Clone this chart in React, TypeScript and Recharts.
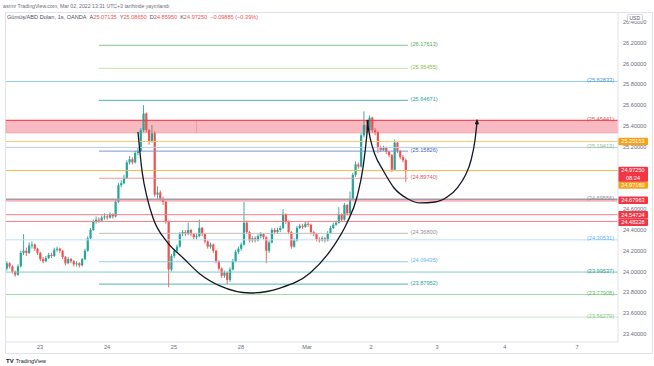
import React from 'react';
import { ComposedChart, Bar, Line, XAxis, YAxis, ReferenceLine, ReferenceArea } from 'recharts';

// ---- candle data (1h candles, slot index = position on time axis) ----
const firstOpen = 24.03;
const closes = [
  24.08, 24.05, 24.00, 23.97, 24.05, 24.18, 24.20, 24.18, 24.25, 24.26,
  24.22, 24.18, 24.12, 24.10, 24.13, 24.16, 24.15, 24.21, 24.22, 24.20,
  24.14, 24.08, 24.12, 24.10, 24.07, 24.08, 24.06, 24.12, 24.20, 24.32,
  24.40, 24.48, 24.50, 24.49, 24.52, 24.53, 24.52, 24.55, 24.53, 24.67,
  24.83, 24.85, 24.90, 25.05, 25.08, 25.05, 25.14, 25.16, 25.36, 25.52,
  25.36, 25.25, 25.33, 24.74, 24.76, 24.70, 24.67, 24.48, 24.02, 24.15,
  24.20, 24.24, 24.36, 24.38, 24.36, 24.40, 24.36, 24.33, 24.34, 24.42,
  24.36, 24.29, 24.24, 24.26, 24.20, 24.10, 24.03, 23.96, 23.99, 23.92,
  24.02, 24.10, 24.19, 24.22, 24.26, 24.47, 24.38, 24.30, 24.32, 24.30,
  24.34, 24.36, 24.33, 24.20, 24.28, 24.40, 24.38, 24.40, 24.42, 24.55,
  24.48, 24.38, 24.24, 24.30, 24.42, 24.44, 24.43, 24.46, 24.45, 24.38,
  24.36, 24.31, 24.30, 24.32, 24.30, 24.37, 24.42, 24.45, 24.47, 24.55,
  24.50, 24.64, 24.56, 24.70, 24.93, 25.03, 25.01, 25.31, 25.41, 25.36,
  25.48, 25.36, 25.34, 25.19, 25.17, 25.19, 25.15, 25.12, 24.98, 25.24,
  25.16, 25.10, 25.07135, 24.9725,
];
const highs = [
  24.10, 24.09, 24.06, 24.01, 24.07, 24.20, 24.36, 24.23, 24.28, 24.29,
  24.27, 24.23, 24.19, 24.14, 24.15, 24.18, 24.18, 24.23, 24.24, 24.23,
  24.21, 24.15, 24.14, 24.13, 24.11, 24.10, 24.09, 24.13, 24.22, 24.34,
  24.42, 24.50, 24.53, 24.52, 24.54, 24.56, 24.55, 24.57, 24.56, 24.69,
  24.85, 24.88, 24.93, 25.07, 25.11, 25.10, 25.16, 25.19, 25.38, 25.60,
  25.53, 25.37, 25.41, 25.35, 24.82, 24.78, 24.72, 24.68, 24.49, 24.17,
  24.22, 24.26, 24.38, 24.40, 24.40, 24.47, 24.41, 24.37, 24.36, 24.50,
  24.43, 24.37, 24.30, 24.28, 24.27, 24.21, 24.11, 24.04, 24.01, 24.00,
  24.04, 24.12, 24.21, 24.24, 24.28, 24.67, 24.49, 24.39, 24.34, 24.34,
  24.36, 24.38, 24.37, 24.34, 24.30, 24.42, 24.42, 24.42, 24.44, 24.60,
  24.56, 24.49, 24.39, 24.32, 24.44, 24.46, 24.46, 24.48, 24.48, 24.46,
  24.39, 24.37, 24.33, 24.34, 24.33, 24.39, 24.44, 24.47, 24.49, 24.62,
  24.56, 24.66, 24.65, 24.77, 24.95, 25.06, 25.05, 25.33, 25.54, 25.44,
  25.50, 25.49, 25.38, 25.35, 25.21, 25.21, 25.20, 25.16, 25.13, 25.27,
  25.25, 25.17, 25.12, 25.0865,
];
const lows = [
  24.01, 24.03, 23.98, 23.95, 23.96, 24.04, 24.16, 24.15, 24.17, 24.22,
  24.20, 24.16, 24.10, 24.08, 24.09, 24.12, 24.13, 24.14, 24.19, 24.18,
  24.12, 24.06, 24.07, 24.08, 24.05, 24.05, 24.04, 24.05, 24.11, 24.19,
  24.31, 24.39, 24.46, 24.47, 24.48, 24.50, 24.50, 24.51, 24.51, 24.52,
  24.66, 24.81, 24.84, 24.89, 25.03, 25.03, 25.04, 25.12, 25.15, 25.34,
  25.34, 25.22, 25.24, 24.72, 24.70, 24.68, 24.64, 24.46, 23.85, 24.00,
  24.13, 24.18, 24.23, 24.34, 24.34, 24.35, 24.34, 24.31, 24.31, 24.33,
  24.34, 24.27, 24.22, 24.22, 24.18, 24.08, 24.01, 23.94, 23.94, 23.88,
  23.90, 24.01, 24.09, 24.17, 24.20, 24.25, 24.36, 24.28, 24.28, 24.28,
  24.29, 24.32, 24.31, 24.08, 24.18, 24.27, 24.36, 24.36, 24.38, 24.41,
  24.46, 24.36, 24.22, 24.23, 24.29, 24.41, 24.41, 24.42, 24.43, 24.36,
  24.34, 24.29, 24.28, 24.29, 24.28, 24.29, 24.36, 24.41, 24.44, 24.46,
  24.48, 24.49, 24.54, 24.55, 24.69, 24.91, 24.99, 25.00, 25.29, 25.33,
  25.35, 25.34, 25.31, 25.14, 25.15, 25.16, 25.13, 25.10, 24.96, 24.97,
  25.14, 25.08, 25.05, 24.8595,
];

// ---- axis ticks ----
const dayTickSlots = [11.9, 35.9, 59.9, 83.9, 107.6, 130.5, 154.2, 178.5, 204.4];
const dayTickLabels = ['23', '24', '25', '28', 'Mar', '2', '3', '4', '7'];
const priceTicks = [23.4, 23.6, 23.8, 24.0, 24.2, 24.4, 24.6, 25.2, 25.4, 25.6, 25.8, 26.0, 26.2, 26.4];

// ---- drawings ----
const labeledLevels = [25.82833, 25.45441, 25.19413, 24.69556, 24.30531, 23.99537, 23.77908, 23.56279];
const boxedLevels = [25.25153, 24.97160, 24.67963, 24.54724, 24.48228];
const partialLevels = [26.17613, 25.95455, 25.64671, 25.15826, 24.89740, 24.36800, 24.09435, 23.87952];
const partialStartSlot = 33.0;
const partialEndSlot = 143.8;
const bandLow = 25.333;
const bandHigh = 25.45441;
const bandDividerSlot = 68.0;
const lastPrice = 24.9725;
const countdown = '08:24';

const bigArcSlots = [47.0, 48.5, 50.3, 52.4, 57.4, 63.2, 69.2, 76.4, 87.2, 97.9, 108.7, 116.9, 121.9, 125.5, 127.7, 129.1, 129.5];
const bigArcPrices = [25.342, 24.958, 24.708, 24.515, 24.285, 24.131, 23.977, 23.862, 23.794, 23.842, 23.987, 24.237, 24.467, 24.717, 25.006, 25.333, 25.458];
const smallArcSlots = [129.1, 130.2, 132.0, 134.8, 138.8, 143.8, 148.1, 153.5, 157.8, 161.7, 164.2, 166.4, 167.8, 168.5];
const smallArcPrices = [25.458, 25.285, 25.121, 24.977, 24.804, 24.698, 24.660, 24.669, 24.717, 24.813, 24.919, 25.073, 25.265, 25.43];

// ---- styles (kept apart from data) ----
const FONT = '"Liberation Sans", Arial, sans-serif';
const UP = '#26a69a';
const DOWN = '#ef5350';
const labeledStyle = [
  { line: '#90caf9', text: '#4a9ad8', w: 1 },
  { line: '#f23645', text: '#e05560', w: 1 },
  { line: '#b7cde0', text: '#8fbf8f', w: 1 },
  { line: '#a79aa6', text: '#8d8f99', w: 1.4 },
  { line: '#bbdefb', text: '#64b5f6', w: 1 },
  { line: '#80cbc4', text: '#26a69a', w: 1 },
  { line: '#a5d6a7', text: '#66bb6a', w: 1 },
  { line: '#c8e6c9', text: '#81c784', w: 1 },
];
const boxedStyle = [
  { line: '#fbc57a', bg: '#f7a21b', dy: 0 },
  { line: '#ffb74d', bg: '#f7a21b', dy: 14.5 },
  { line: '#f57d87', bg: '#f23645', dy: -0.6 },
  { line: '#f57d87', bg: '#f23645', dy: 0 },
  { line: '#f57d87', bg: '#f23645', dy: 0.8 },
];
const partialStyle = [
  { line: '#81c784', text: '#4caf50' },
  { line: '#c5e1a5', text: '#8bc34a' },
  { line: '#4db6ac', text: '#26a69a' },
  { line: '#7e96d8', text: '#3f63c9' },
  { line: '#ef9a9a', text: '#e05560' },
  { line: '#bdbdbd', text: '#8d8f99' },
  { line: '#90caf9', text: '#64b5f6' },
  { line: '#4db6ac', text: '#26a69a' },
];

const candles = closes.map((c, i) => {
  const o = i === 0 ? firstOpen : closes[i - 1];
  return { x: i, o, c, h: highs[i], l: lows[i], range: [lows[i], highs[i]] };
});
const bigArc = bigArcSlots.map((x, i) => ({ x, p: bigArcPrices[i] }));
const smallArc = smallArcSlots.map((x, i) => ({ x, p: smallArcPrices[i] }));

const Candle = (props: any) => {
  const { x, y, width, height, payload } = props;
  if (!payload || x == null || y == null) return <g />;
  const { o, c, h, l } = payload;
  const color = c >= o ? UP : DOWN;
  const top = Math.min(y, y + height);
  const hh = Math.abs(height);
  const k = h - l > 0 ? hh / (h - l) : 0;
  const cx = x + width / 2;
  const bodyTop = top + (h - Math.max(o, c)) * k;
  const bodyH = Math.max(Math.abs(o - c) * k, 0.9);
  return (
    <g>
      <line x1={cx} x2={cx} y1={top} y2={top + hh} stroke={color} strokeWidth={0.9} />
      <rect x={cx - 1.1} y={bodyTop} width={2.2} height={bodyH} fill={color} />
    </g>
  );
};

const endLabel = (text: string, color: string) => (p: any) => {
  const vb = p.viewBox || {};
  return (
    <text x={vb.x + vb.width - 4} y={vb.y + 0.6} textAnchor="end" fontSize={5.6} fill={color} fontFamily={FONT}>
      {text}
    </text>
  );
};
const afterLabel = (text: string, color: string) => (p: any) => {
  const vb = p.viewBox || {};
  return (
    <text x={vb.x + vb.width + 2.5} y={vb.y + 0.6} textAnchor="start" fontSize={5.6} fill={color} fontFamily={FONT}>
      {text}
    </text>
  );
};
const boxLabel = (text: string, bg: string, dy: number, sub?: string) => (p: any) => {
  const vb = p.viewBox || {};
  const bx = vb.x + vb.width;
  const cy = vb.y + dy;
  const h = sub ? 15 : 7.4;
  return (
    <g>
      <rect x={bx} y={cy - 3.7} width={30} height={h} fill={bg} rx={1} />
      <text x={bx + 15} y={cy + 2} textAnchor="middle" fontSize={5.6} fill="#ffffff" fontFamily={FONT}>
        {text}
      </text>
      {sub ? (
        <text x={bx + 15} y={cy + 9.2} textAnchor="middle" fontSize={5.6} fill="#ffffff" fontFamily={FONT}>
          {sub}
        </text>
      ) : null}
    </g>
  );
};

const arrowDot = (props: any) => {
  const { cx, cy, index } = props;
  if (index !== smallArc.length - 1 || cx == null) return <g key={`d${index}`} />;
  return <path key={`d${index}`} d={`M${cx},${cy - 4} L${cx - 2.2},${cy + 1.5} L${cx + 2.2},${cy + 1.5} Z`} fill="#131722" />;
};

export default function App() {
  return (
    <div style={{ position: 'relative', width: 654, height: 366, background: '#ffffff', fontFamily: FONT, overflow: 'hidden' }}>
      <style>{'body{margin:0;}'}</style>
      <div
        style={{
          position: 'absolute', left: 5, top: 12, width: 648, height: 342,
          border: '1px solid #e0e3eb', boxSizing: 'border-box', pointerEvents: 'none',
        }}
      />
      <ComposedChart width={654} height={366} data={candles} margin={{ top: 12, right: 2, bottom: 13, left: 6 }}>
        <XAxis
          dataKey="x"
          type="number"
          domain={[-0.3, 219.05]}
          allowDataOverflow
          ticks={dayTickSlots}
          tickFormatter={(v: number) => {
            const i = dayTickSlots.indexOf(v);
            return i >= 0 ? dayTickLabels[i] : '';
          }}
          height={11}
          tickSize={0}
          tickMargin={3}
          axisLine={{ stroke: '#e0e3eb' }}
          tickLine={false}
          tick={{ fontSize: 5.6, fill: '#6a6d78', fontFamily: FONT }}
        />
        <YAxis
          orientation="right"
          type="number"
          domain={[23.323, 26.496]}
          allowDataOverflow
          ticks={priceTicks}
          tickFormatter={(v: number) => v.toFixed(5)}
          width={34}
          tickSize={0}
          tickMargin={5}
          axisLine={{ stroke: '#e0e3eb' }}
          tickLine={false}
          tick={{ fontSize: 5.6, fill: '#6a6d78', fontFamily: FONT }}
        />
        <ReferenceArea y1={bandLow} y2={bandHigh} fill="#f7aeb5" fillOpacity={0.85} stroke="#f19aa3" strokeWidth={0.6} />
        <ReferenceLine
          segment={[{ x: bandDividerSlot, y: bandLow }, { x: bandDividerSlot, y: bandHigh }]}
          stroke="#e98f99"
          strokeWidth={0.7}
        />
        {partialLevels.map((v, i) => (
          <ReferenceLine
            key={`p${i}`}
            segment={[{ x: partialStartSlot, y: v }, { x: partialEndSlot, y: v }]}
            stroke={partialStyle[i].line}
            strokeWidth={1}
            label={afterLabel(`(${v.toFixed(5)})`, partialStyle[i].text)}
          />
        ))}
        {boxedLevels.map((v, i) => (
          <ReferenceLine key={`b${i}`} y={v} stroke={boxedStyle[i].line} strokeWidth={1} />
        ))}
        {labeledLevels.map((v, i) => (
          <ReferenceLine
            key={`l${i}`}
            y={v}
            stroke={labeledStyle[i].line}
            strokeWidth={labeledStyle[i].w}
            label={endLabel(`(${v.toFixed(5)})`, labeledStyle[i].text)}
          />
        ))}
        <Bar dataKey="range" barSize={2} shape={Candle} isAnimationActive={false} />
        <Line data={bigArc} dataKey="p" type="monotone" stroke="#131722" strokeWidth={1.3} dot={false} isAnimationActive={false} />
        <Line data={smallArc} dataKey="p" type="monotone" stroke="#131722" strokeWidth={1.3} dot={arrowDot} isAnimationActive={false} />
        {boxedLevels.map((v, i) => (
          <ReferenceLine
            key={`bb${i}`}
            y={v}
            strokeOpacity={0}
            label={boxLabel(v.toFixed(5), boxedStyle[i].bg, boxedStyle[i].dy)}
          />
        ))}
        <ReferenceLine y={lastPrice} strokeOpacity={0} label={boxLabel(lastPrice.toFixed(5), '#f23645', 0, countdown)} />
      </ComposedChart>
      <div style={{ position: 'absolute', left: 627, top: 13.5, fontSize: 5, color: '#50535e', background: '#ffffff', border: '0.5px solid #d1d4dc', borderRadius: 1.5, padding: '0 1.5px', lineHeight: '6px' }}>
        USD
      </div>
      <div style={{ position: 'absolute', left: 3, top: 2.5, fontSize: 5.2, color: '#6a6d78', whiteSpace: 'nowrap', lineHeight: '7px' }}>
        asrmr TradingView.com, Mar 02, 2022 13:31 UTC+3 tarihinde yayınlandı
      </div>
      <div style={{ position: 'absolute', left: 7, top: 13.5, fontSize: 5.6, color: '#50535e', whiteSpace: 'nowrap', lineHeight: '7px' }}>
        <span>Gümüş/ABD Doları, 1s, OANDA</span>
        <span style={{ marginLeft: 3 }}>A</span><span style={{ color: '#ef5350' }}>25.07135</span>
        <span style={{ marginLeft: 3 }}>Y</span><span style={{ color: '#ef5350' }}>25.08650</span>
        <span style={{ marginLeft: 3 }}>D</span><span style={{ color: '#ef5350' }}>24.85950</span>
        <span style={{ marginLeft: 3 }}>K</span><span style={{ color: '#ef5350' }}>24.97250</span>
        <span style={{ marginLeft: 3, color: '#ef5350' }}>−0.09885 (−0.39%)</span>
      </div>
      <div style={{ position: 'absolute', left: 6, top: 358, fontSize: 5.5, color: '#131722', whiteSpace: 'nowrap', lineHeight: '7px' }}>
        <span style={{ fontWeight: 900, fontSize: 6 }}>TV</span>
        <span style={{ marginLeft: 2 }}>TradingView</span>
      </div>
    </div>
  );
}
